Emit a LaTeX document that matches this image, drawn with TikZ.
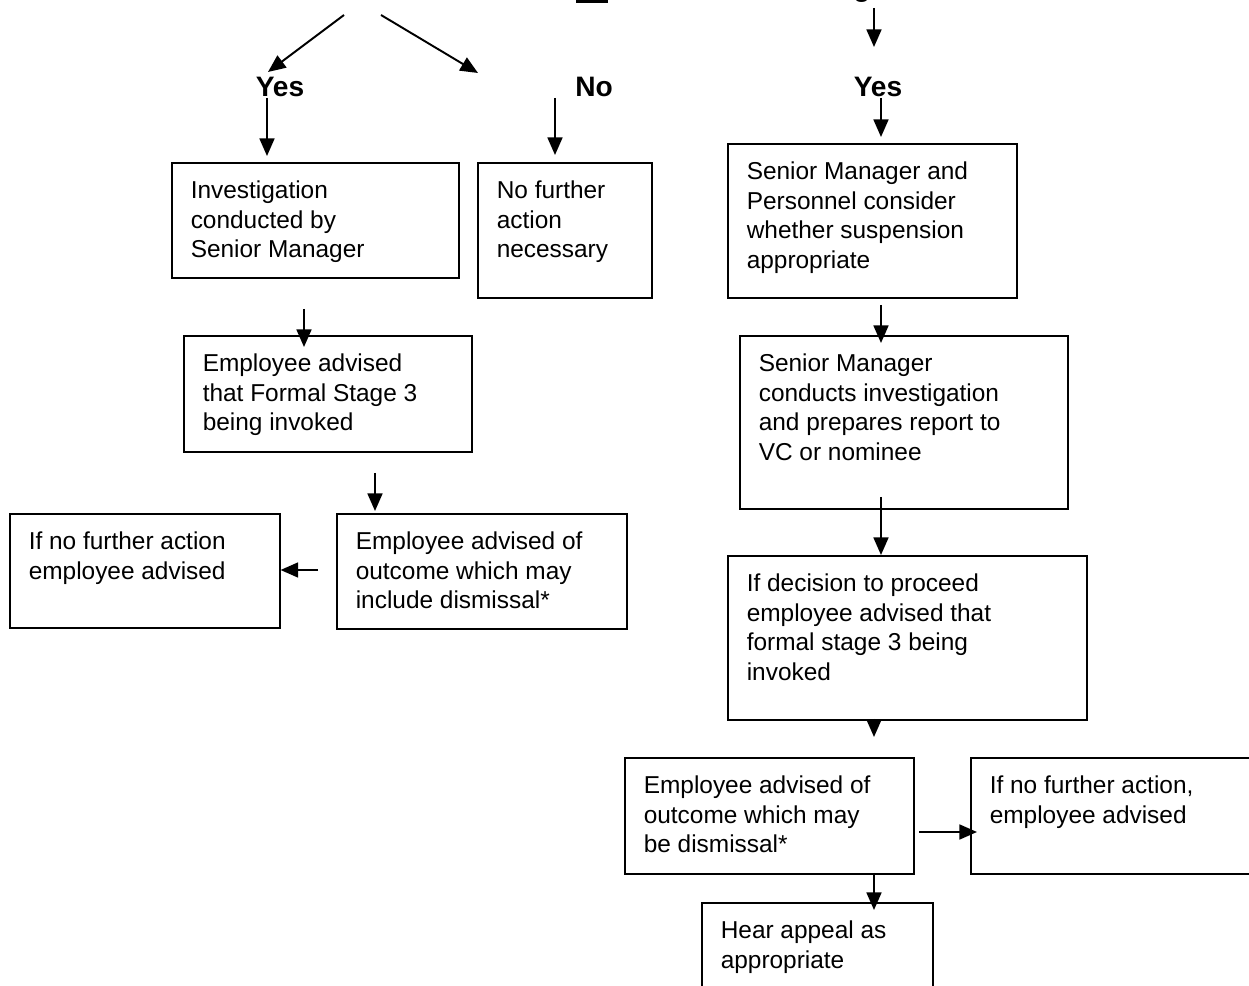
\documentclass[tikz,border=0pt]{standalone}
\usepackage{fontspec}
\setmainfont{Liberation Sans}
\usepackage{tikz}
\usetikzlibrary{arrows.meta}

\newlength\px
\setlength\px{0.02cm}
\newcommand{\boxtext}[3]{\parbox[t][\dimexpr#2\px-30\px\relax][t]{\dimexpr#1\px-38\px\relax}{\raggedright\strut#3}}

\begin{document}
\begin{tikzpicture}[x=0.02cm,y=-0.02cm,>={Triangle[length=10pt,width=8.5pt]},
      arr/.style={->,line width=1.1pt},
      stepbox/.style={draw,line width=0.9pt,anchor=north west,inner xsep=0.38cm,
        inner ysep=0.3cm,font=\fontsize{13.9}{16.9}\selectfont},
      answer/.style={anchor=base,inner sep=0pt,font=\fontsize{16}{19}\selectfont\bfseries}]

      \useasboundingbox (0,0) rectangle (1249,986);

      % cut-off text at the top edge
      \fill (576,0) rectangle (608,3);
      \node[answer] (frag) at (862,-3) {g};

      \node[answer] (yesL) at (280,97) {Yes};
      \node[answer] (noL) at (594,97) {No};
      \node[answer] (yesR) at (878,97) {Yes};

      \node[stepbox] (inv) at (171,162) {\boxtext{287}{115}{Investigation\\conducted by\\Senior Manager}};
      \node[stepbox] (nfa) at (477,162) {\boxtext{174}{135}{No further\\action\\necessary}};
      \node[stepbox] (adv) at (183,335) {\boxtext{288}{116}{Employee advised\\that Formal Stage 3\\being invoked}};
      \node[stepbox] (out) at (336,513) {\boxtext{290}{115}{Employee advised of\\outcome which may\\include dismissal*}};
      \node[stepbox] (nfaL) at (9,513) {\boxtext{270}{114}{If no further action\\employee advised}};

      \node[stepbox] (susp) at (727,143) {\boxtext{289}{154}{Senior Manager and\\Personnel consider\\whether suspension\\appropriate}};
      \node[stepbox] (rep) at (739,335) {\boxtext{328}{173}{Senior Manager\\conducts investigation\\and prepares report to\\VC or nominee}};
      \node[stepbox] (proc) at (727,555) {\boxtext{359}{164}{If decision to proceed\\employee advised that\\formal stage 3 being\\invoked}};
      \node[stepbox] (outR) at (624,757) {\boxtext{289}{116}{Employee advised of\\outcome which may\\be dismissal*}};
      \node[stepbox] (nfaR) at (970,757) {\boxtext{400}{116}{If no further action,\\employee advised}};
      \node[stepbox] (appeal) at (701,902) {\boxtext{231}{130}{Hear appeal as\\appropriate}};

      \coordinate (t1) at (344,15);
      \coordinate (t1e) at (268,72);
      \coordinate (t2) at (381,15);
      \coordinate (t2e) at (478,73);
      \coordinate (t3) at (874,8);
      \coordinate (t3e) at (874,47);
      \coordinate (a1) at (267,98);
      \coordinate (a2) at (555,98);
      \coordinate (a3) at (881,98);
      \coordinate (a4) at (304,309);
      \coordinate (a5) at (375,473);
      \coordinate (a6) at (318,570);
      \coordinate (a7) at (881,305);
      \coordinate (a8) at (881,497);
      \coordinate (a9) at (874,719);
      \coordinate (a10) at (919,832);
      \coordinate (a11) at (874,873);

      \draw[arr] (t1) -- (t1e);
      \draw[arr] (t2) -- (t2e);
      \draw[arr] (t3) -- (t3e);
      \draw[arr,shorten >=6\px] (a1) -- (a1 |- inv.north);
      \draw[arr,shorten >=7\px] (a2) -- (a2 |- nfa.north);
      \draw[arr,shorten >=6\px] (a3) -- (a3 |- susp.north);
      \draw[arr,shorten >=-12\px] (a4) -- (a4 |- adv.north);
      \draw[arr,shorten >=2\px] (a5) -- (a5 |- out.north);
      \draw[arr] (a6) -- (a6 -| nfaL.east);
      \draw[arr,shorten >=-8\px] (a7) -- (a7 |- rep.north);
      \draw[arr] (a8) -- (a8 |- proc.north);
      \draw[arr,shorten >=20\px] (a9) -- (a9 |- outR.north);
      \draw[arr,shorten >=-7\px] (a10) -- (a10 -| nfaR.west);
      \draw[arr,shorten >=-8\px] (a11) -- (a11 |- appeal.north);
    \end{tikzpicture}
\end{document}
